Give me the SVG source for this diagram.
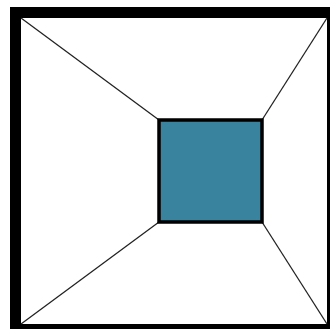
<svg xmlns="http://www.w3.org/2000/svg" width="330" height="329" viewBox="0 0 330 329">
  <style>
    .conn { stroke: #222; stroke-width: 1.3; fill: none; }
  </style>
  <rect x="0" y="0" width="330" height="329" fill="#ffffff"/>
  <g id="frame">
    <path d="M10,7 H330 V329 H10 Z M21,18 V324 H327 V18 Z" fill="#000" fill-rule="evenodd"/>
  </g>
  <g id="connectors">
    <line class="conn" x1="21" y1="18" x2="159" y2="120"/>
    <line class="conn" x1="327" y1="18" x2="262" y2="120"/>
    <line class="conn" x1="21" y1="324" x2="159" y2="222"/>
    <line class="conn" x1="327" y1="324" x2="262" y2="222"/>
  </g>
  <g id="center">
    <rect x="159" y="120" width="103" height="102" fill="#3A839F" stroke="#000" stroke-width="3.5"/>
  </g>
</svg>
